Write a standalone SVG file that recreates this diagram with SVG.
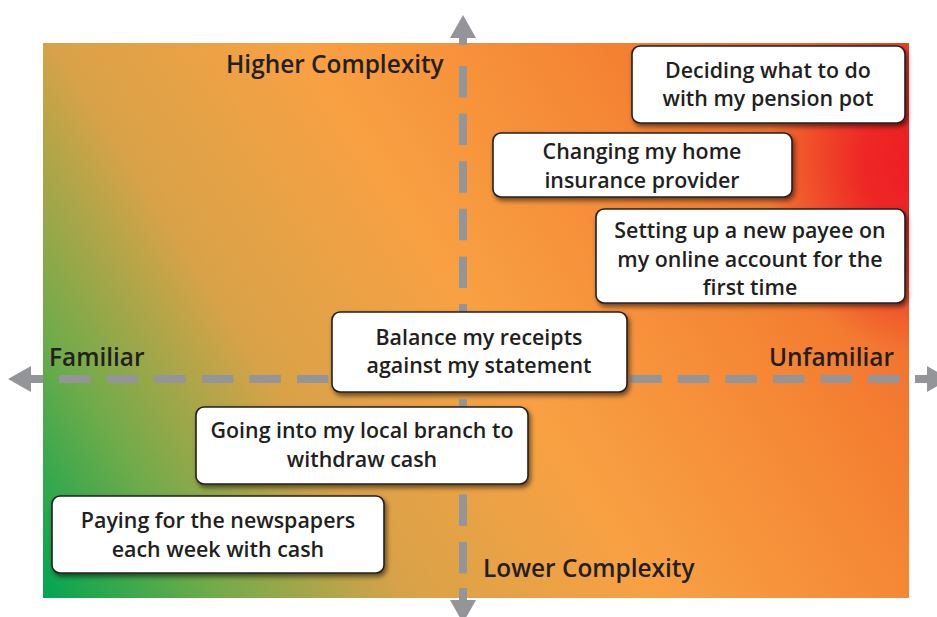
<svg xmlns="http://www.w3.org/2000/svg" width="937" height="617" viewBox="0 0 937 617">
<defs>
<linearGradient id="bg" gradientUnits="userSpaceOnUse" x1="43" y1="598" x2="909" y2="43">
<stop offset="0" stop-color="#00a651"/>
<stop offset="0.14" stop-color="#6fab4a"/>
<stop offset="0.3" stop-color="#d9a248"/>
<stop offset="0.5" stop-color="#f8a143"/>
<stop offset="0.72" stop-color="#f58634"/>
<stop offset="1" stop-color="#ef5a29"/>
</linearGradient>
<radialGradient id="red" gradientUnits="userSpaceOnUse" cx="915" cy="165" r="150" gradientTransform="translate(915 165) scale(1 1.25) translate(-915 -165)">
<stop offset="0" stop-color="#ed1c24" stop-opacity="1"/>
<stop offset="0.35" stop-color="#ed1c24" stop-opacity="0.85"/>
<stop offset="1" stop-color="#ed1c24" stop-opacity="0"/>
</radialGradient>
<filter id="sh" x="-10%" y="-20%" width="125%" height="150%">
<feDropShadow dx="2" dy="3" stdDeviation="2.5" flood-color="#000" flood-opacity="0.55"/>
</filter>
<style>
.box{fill:#fff;stroke:#231f20;stroke-width:1.6;filter:url(#sh)}
.t{font-family:"Open Sans",Lato,"Liberation Sans",sans-serif;font-weight:600;font-size:21.4px;fill:#231f20;text-anchor:middle}
.ax{font-family:"Open Sans",Lato,"Liberation Sans",sans-serif;font-weight:600;font-size:24.4px;fill:#231f20}
.dash{stroke:#939598;stroke-width:8;fill:none;stroke-dasharray:31.5 16.1}
.sol{stroke:#939598;stroke-width:8;fill:none}
.head{fill:#939598}
</style>
</defs>
<g id="background">
<rect x="43" y="43" width="866" height="555" fill="url(#bg)"/>
<rect x="43" y="43" width="866" height="555" fill="url(#red)"/>
</g>
<g id="axes">
<line class="dash" x1="59" y1="379" x2="900" y2="379"/>
<line class="dash" x1="463" y1="66" x2="463" y2="574"/>
<line class="sol" x1="29" y1="379" x2="43" y2="379"/>
<line class="sol" x1="915" y1="379" x2="929" y2="379"/>
<line class="sol" x1="463" y1="36" x2="463" y2="45"/>
<line class="sol" x1="463" y1="588" x2="463" y2="602"/>
<polygon class="head" points="8,379 31,366 31,392"/>
<polygon class="head" points="950,379 927,366 927,392"/>
<polygon class="head" points="463,15 450,38 476,38"/>
<polygon class="head" points="463,623 450,600 476,600"/>
</g>
<g id="axis-labels">
<text class="ax" x="226" y="73">Higher Complexity</text>
<text class="ax" x="483" y="577">Lower Complexity</text>
<text class="ax" x="49" y="366">Familiar</text>
<text class="ax" x="769" y="366">Unfamiliar</text>
</g>
<g id="node-pension">
<rect class="box" x="632" y="46" width="273" height="77" rx="8"/>
<text class="t" x="768" y="78">Deciding what to do</text>
<text class="t" x="768" y="106">with my pension pot</text>
</g>
<g id="node-insurance">
<rect class="box" x="493" y="133" width="299" height="64" rx="8"/>
<text class="t" x="642" y="159">Changing my home</text>
<text class="t" x="642" y="188">insurance provider</text>
</g>
<g id="node-payee">
<rect class="box" x="596" y="209" width="309" height="94" rx="8"/>
<text class="t" x="750" y="238">Setting up a new payee on</text>
<text class="t" x="750" y="267">my online account for the</text>
<text class="t" x="750" y="295">first time</text>
</g>
<g id="node-receipts">
<rect class="box" x="332" y="312" width="295" height="80" rx="8"/>
<text class="t" x="479" y="345">Balance my receipts</text>
<text class="t" x="479" y="373">against my statement</text>
</g>
<g id="node-branch">
<rect class="box" x="196" y="407" width="332" height="77" rx="8"/>
<text class="t" x="362" y="438">Going into my local branch to</text>
<text class="t" x="362" y="467">withdraw cash</text>
</g>
<g id="node-newspapers">
<rect class="box" x="52" y="496" width="332" height="77" rx="8"/>
<text class="t" x="218" y="528">Paying for the newspapers</text>
<text class="t" x="218" y="557">each week with cash</text>
</g>
</svg>
